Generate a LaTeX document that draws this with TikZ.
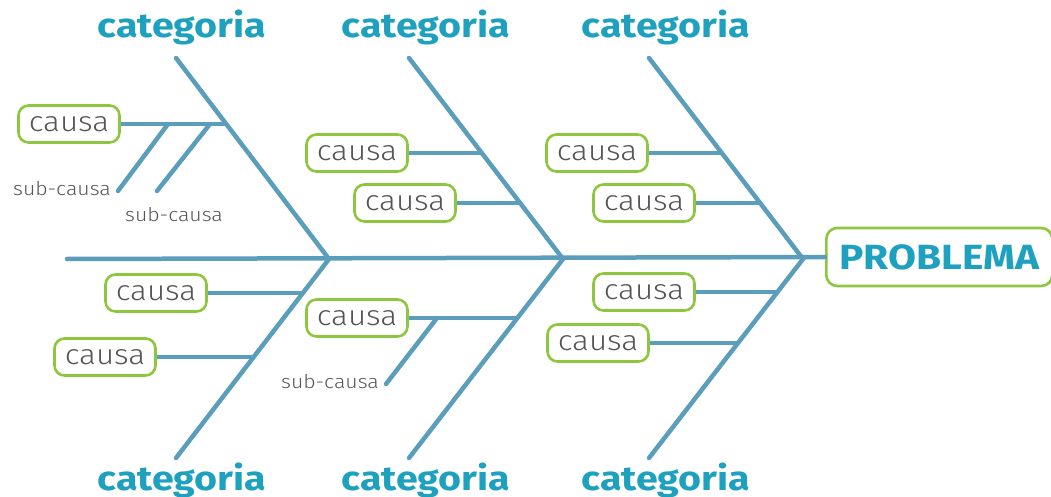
\documentclass[tikz,border=0pt]{standalone}
\usepackage{fontspec}
\setmainfont{Fira Sans}
\newfontfamily\causefont[FakeStretch=1.12]{Fira Sans Light}
\newfontfamily\headfont[FakeStretch=1.16]{Fira Sans Bold}
\definecolor{bone}{HTML}{5A9EBC}
\definecolor{head}{HTML}{1EA0BF}
\definecolor{frame}{HTML}{8DC63F}
\definecolor{txt}{HTML}{555555}
\begin{document}
\begin{tikzpicture}[x=1pt,y=-1pt,
  boneline/.style={draw=bone,line width=4.5pt,line cap=round},
  causebox/.style={draw=frame,line width=2.6pt,rounded corners=10pt,fill=white,
    minimum width=101pt,minimum height=37pt,inner sep=0pt,
    font=\causefont\fontsize{28}{28}\selectfont,text=txt},
  cathead/.style={font=\headfont\fontsize{34}{34}\selectfont,text=head},
  subtext/.style={font=\causefont\fontsize{19}{19}\selectfont,text=txt,inner sep=0pt}]
\useasboundingbox (0,0) rectangle (1051,497);

% spine
\coordinate (tail) at (67,259);
\coordinate (j1) at (329,259);
\coordinate (j2) at (563,259);
\coordinate (j3) at (803,259);
\node[draw=frame,line width=2.6pt,rounded corners=11pt,fill=white,
  minimum width=226pt,minimum height=58pt,inner sep=0pt,
  font=\headfont\fontsize{35}{35}\selectfont,text=head,anchor=west]
  (prob) at (825,257) {PROBLEMA};
\draw[boneline] (tail) -- (prob.west);

% main bones
\coordinate (t1) at (176,58);  \coordinate (b1) at (176,458);
\coordinate (t2) at (409,58);  \coordinate (b2) at (409,458);
\coordinate (t3) at (649,58);  \coordinate (b3) at (649,458);
\draw[boneline] (t1) -- (j1) -- (b1);
\draw[boneline] (t2) -- (j2) -- (b2);
\draw[boneline] (t3) -- (j3) -- (b3);

% category headings
\node[cathead] (ct1) at (182,27) {categoria};
\node[cathead] (ct2) at (426,27) {categoria};
\node[cathead] (ct3) at (666,27) {categoria};
\node[cathead] (cb1) at (182,480) {categoria};
\node[cathead] (cb2) at (426,480) {categoria};
\node[cathead] (cb3) at (666,480) {categoria};

% cause attachment points on the bones
\coordinate (a1) at (226,124);
\coordinate (a2) at (481,153);
\coordinate (a3) at (519,203);
\coordinate (a4) at (721,153);
\coordinate (a5) at (759,203);
\coordinate (a6) at (303,293);
\coordinate (a7) at (254,357);
\coordinate (a8) at (518,318);
\coordinate (a9) at (778,292);
\coordinate (a10) at (739,343);

% causes
\node[causebox] (c1) at (69,124) {causa};
\node[causebox] (c2) at (357,153) {causa};
\node[causebox] (c3) at (405,203) {causa};
\node[causebox] (c4) at (597,153) {causa};
\node[causebox] (c5) at (644,203) {causa};
\node[causebox] (c6) at (156,293) {causa};
\node[causebox] (c7) at (105,357) {causa};
\node[causebox] (c8) at (357,318) {causa};
\node[causebox] (c9) at (644,292) {causa};
\node[causebox] (c10) at (598,343) {causa};
\foreach \i in {1,...,10} \draw[boneline,line cap=butt] (c\i.east) -- (a\i);

% sub-causes
\coordinate (s1) at (168,124); \coordinate (e1) at (118,191);
\coordinate (s2) at (210,124); \coordinate (e2) at (157,191);
\coordinate (s3) at (437,318); \coordinate (e3) at (386,384);
\draw[boneline] (s1) -- (e1);
\draw[boneline] (s2) -- (e2);
\draw[boneline] (s3) -- (e3);
\node[subtext,anchor=east] (sc1) at (111,189) {sub-causa};
\node[subtext] (sc2) at (174,215) {sub-causa};
\node[subtext,anchor=east] (sc3) at (379,382) {sub-causa};
\end{tikzpicture}
\end{document}
